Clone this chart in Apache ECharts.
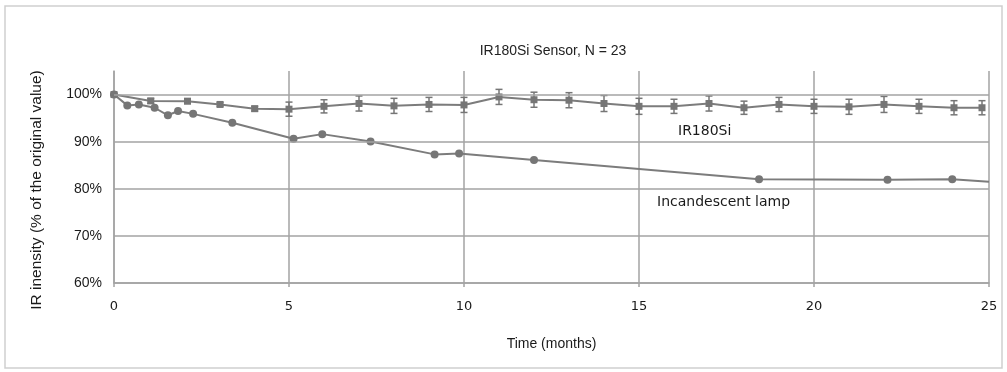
<!DOCTYPE html>
<html>
<head>
<meta charset="utf-8">
<script src="https://cdn.jsdelivr.net/npm/echarts@6/dist/echarts.min.js"></script>
<style>
  html, body { margin: 0; padding: 0; background: #fff; }
  #chart { width: 1007px; height: 372px; }
</style>
</head>
<body>
<div id="chart"></div>
<script>
// IR180Si sensor: months, % of original value, +/- error
const sensorMonths = [0, 1.05, 2.1, 3.03, 4.02, 5, 6, 7, 8, 9, 10, 11, 12, 13, 14, 15, 16, 17, 18, 19, 20, 21, 22, 23, 24, 24.8];
const sensorValues = [100, 98.65, 98.6, 97.9, 97.0, 96.9, 97.5, 98.1, 97.6, 97.9, 97.8, 99.5, 98.9, 98.8, 98.1, 97.5, 97.5, 98.1, 97.2, 97.9, 97.5, 97.4, 97.9, 97.5, 97.2, 97.2];
const sensorErrors = [0, 0.5, 0.5, 0.4, 0.5, 1.5, 1.4, 1.6, 1.6, 1.5, 1.6, 1.6, 1.6, 1.6, 1.7, 1.7, 1.5, 1.6, 1.4, 1.5, 1.5, 1.6, 1.7, 1.5, 1.5, 1.5];

// incandescent lamp
const lampMonths = [0, 0.38, 0.71, 1.16, 1.54, 1.83, 2.26, 3.38, 5.13, 5.95, 7.33, 9.16, 9.86, 12.0, 18.43, 22.1, 23.95, 25];
const lampValues = [100, 97.7, 97.9, 97.2, 95.6, 96.5, 95.9, 94.0, 90.6, 91.6, 90.05, 87.3, 87.5, 86.1, 82.0, 81.9, 82.0, 81.5];

const yTicks = [60, 70, 80, 90, 100];

const GRID = '#a3a3a3';
const LINE = '#7c7c7c';

const chart = echarts.init(document.getElementById('chart'), null, { renderer: 'canvas' });

const sensorData = sensorMonths.map((m, i) => [m, sensorValues[i]]);
const errorData = sensorMonths.map((m, i) => [m, sensorValues[i] - sensorErrors[i], sensorValues[i] + sensorErrors[i]]);
const lampData = lampMonths.map((m, i) => {
  // last point is only the end of the line, no marker
  if (i === lampMonths.length - 1) return { value: [m, lampValues[i]], symbol: 'none' };
  return [m, lampValues[i]];
});

const option = {
  backgroundColor: '#fff',
  animation: false,
  title: {
    text: 'IR180Si Sensor, N = 23',
    left: 548,
    textAlign: 'center',
    top: 39,
    textStyle: { fontFamily: 'Liberation Sans', fontSize: 14, fontWeight: 'normal', color: '#222' }
  },
  graphic: [
    {
      type: 'rect',
      shape: { x: 5, y: 6, width: 997, height: 362 },
      style: { fill: 'none', stroke: '#cfcfcf', lineWidth: 1.5 },
      z: -10
    },
    {
      // y axis title, sits a bit lower than the plot centre in the original
      type: 'text',
      x: 37,
      y: 190,
      rotation: Math.PI / 2,
      style: {
        text: 'IR inensity (% of the original value)',
        font: '15.5px "Liberation Sans"',
        fill: '#1a1a1a',
        align: 'center',
        verticalAlign: 'middle'
      }
    },
    {
      type: 'text', left: 678, top: 124,
      style: { text: 'IR180Si', font: '14px "DejaVu Sans"', fill: '#1a1a1a' }
    },
    {
      type: 'text', left: 657, top: 195,
      style: { text: 'Incandescent lamp', font: '14px "DejaVu Sans"', fill: '#1a1a1a' }
    }
  ],
  grid: { left: 114, right: 18, top: 71, bottom: 89, containLabel: false },
  xAxis: {
    type: 'value',
    min: 0,
    max: 25,
    interval: 5,
    name: 'Time (months)',
    nameLocation: 'middle',
    nameGap: 54,
    nameTextStyle: { fontFamily: 'Liberation Sans', fontSize: 14, color: '#1a1a1a' },
    axisLine: { show: true, lineStyle: { color: GRID, width: 1.5 } },
    axisTick: { show: true, length: 4, lineStyle: { color: GRID, width: 1.5 } },
    axisLabel: { margin: 17, fontFamily: 'DejaVu Sans', fontSize: 13, color: '#1a1a1a' },
    splitLine: { show: true, lineStyle: { color: GRID, width: 1.5 } }
  },
  yAxis: {
    type: 'value',
    min: 60,
    max: 105,
    interval: 10,
    axisLine: { show: true, lineStyle: { color: GRID, width: 1.5 } },
    axisTick: { show: false },
    axisLabel: {
      margin: 12,
      fontFamily: 'Liberation Sans',
      fontSize: 14,
      color: '#1a1a1a',
      formatter: v => (yTicks.includes(v) ? v + '%' : '')
    },
    splitLine: { show: false }
  },
  series: [
    {
      // horizontal grid lines at the labelled ticks only
      type: 'line',
      data: [],
      silent: true,
      markLine: {
        silent: true,
        symbol: 'none',
        label: { show: false },
        lineStyle: { color: GRID, width: 1.5, type: 'solid' },
        data: yTicks.map(v => ({ yAxis: v }))
      },
      z: 1
    },
    {
      name: 'Incandescent lamp',
      type: 'line',
      data: lampData,
      symbol: 'circle',
      symbolSize: 8,
      itemStyle: { color: '#767676' },
      lineStyle: { color: LINE, width: 2 },
      z: 3
    },
    {
      name: 'IR180Si',
      type: 'line',
      data: sensorData,
      symbol: 'rect',
      symbolSize: 7,
      itemStyle: { color: '#767676' },
      lineStyle: { color: LINE, width: 2 },
      z: 3
    },
    {
      type: 'custom',
      data: errorData,
      silent: true,
      renderItem: (params, api) => {
        const x = api.value(0);
        const lo = api.coord([x, api.value(1)]);
        const hi = api.coord([x, api.value(2)]);
        const cap = 3.5;
        const style = { stroke: '#767676', lineWidth: 1.5 };
        return {
          type: 'group',
          children: [
            { type: 'line', shape: { x1: lo[0], y1: lo[1], x2: hi[0], y2: hi[1] }, style },
            { type: 'line', shape: { x1: lo[0] - cap, y1: lo[1], x2: lo[0] + cap, y2: lo[1] }, style },
            { type: 'line', shape: { x1: hi[0] - cap, y1: hi[1], x2: hi[0] + cap, y2: hi[1] }, style }
          ]
        };
      },
      encode: { x: 0, y: [1, 2] },
      z: 4
    }
  ]
};

chart.setOption(option);
</script>
</body>
</html>
